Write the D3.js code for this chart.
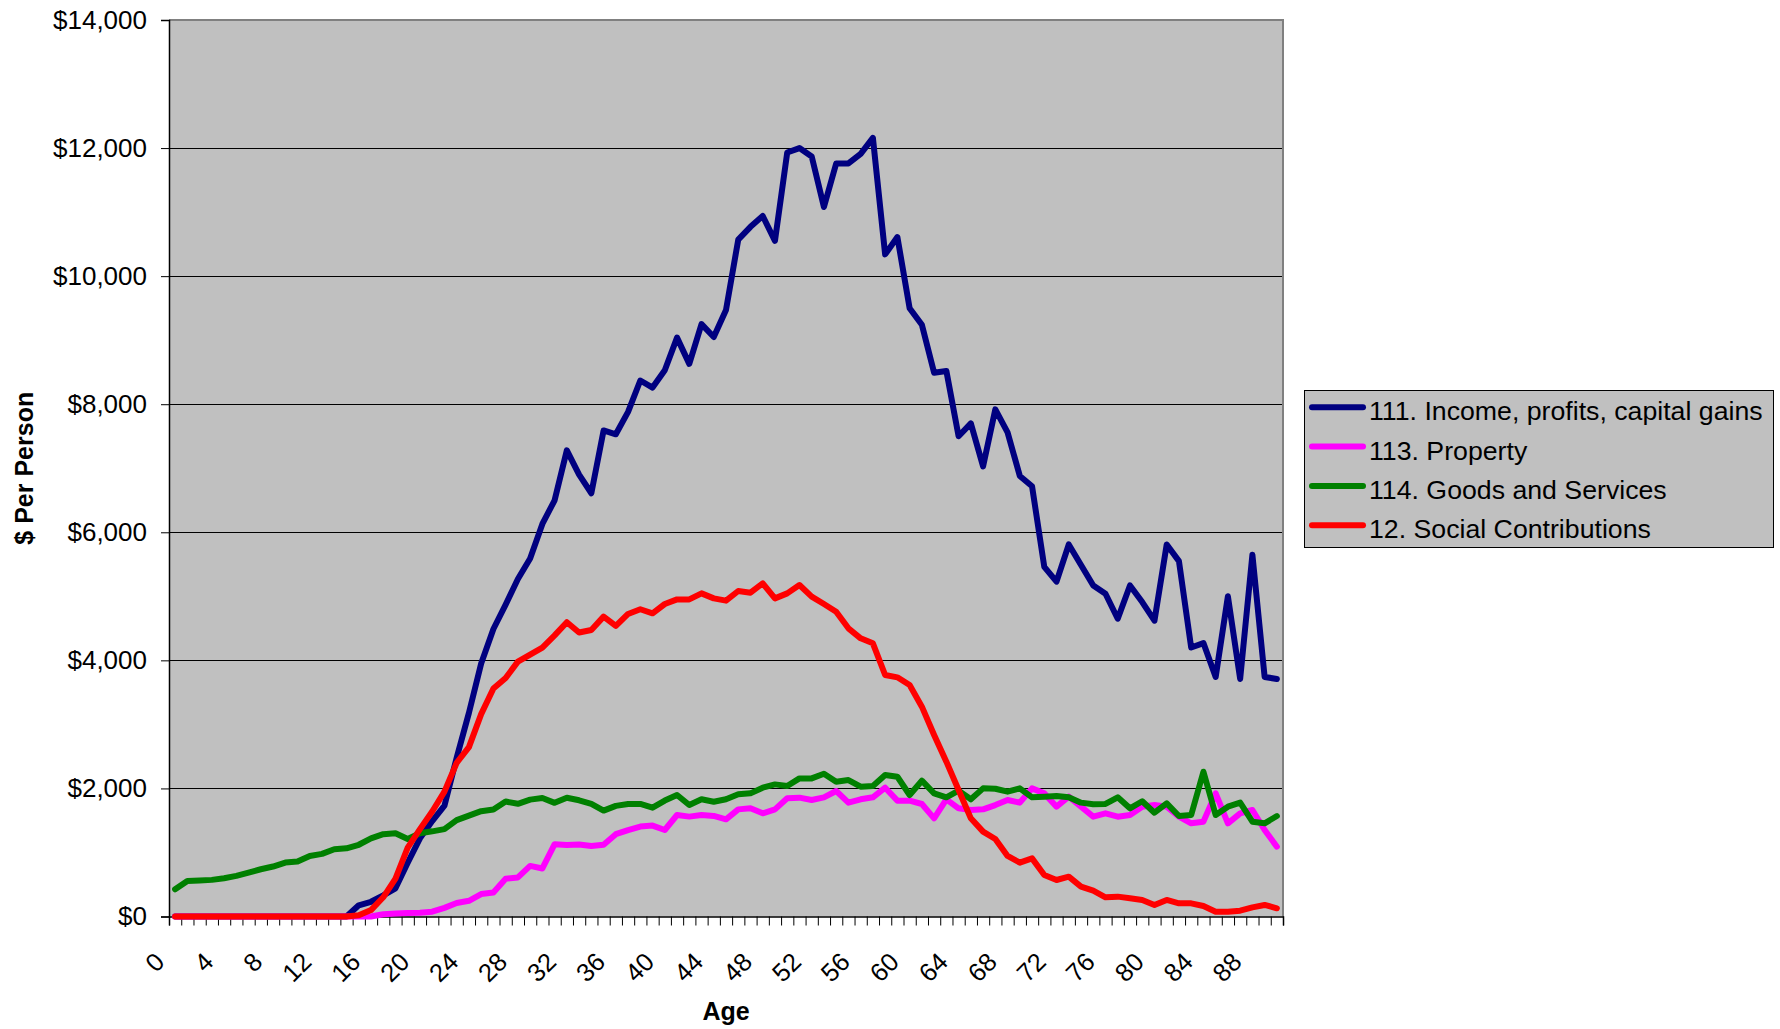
<!DOCTYPE html>
<html>
<head>
<meta charset="utf-8">
<script src="https://cdn.jsdelivr.net/npm/d3@7"></script>
<style>
  html, body { margin: 0; padding: 0; background: #ffffff; }
  svg { display: block; }
  text { font-family: "Liberation Sans", Arial, sans-serif; fill: #000; }
</style>
</head>
<body>
<svg id="chart" width="1780" height="1029"></svg>
<script>
// ---- Data (ages 0..90) ----
const ages = d3.range(0, 91);
const xTickLabels = d3.range(0, 89, 4);
const yTicks = [0, 2000, 4000, 6000, 8000, 10000, 12000, 14000];
const seriesNames = ["111. Income, profits, capital gains", "113. Property", "114. Goods and Services", "12. Social Contributions"];
const seriesColors = ["#000080", "#FF00FF", "#008000", "#FF0000"];

const income = [0,0,0,0,0,0,0,0,0,0,0,0,0,0,0,175,230,330,440,840,
  1220,1490,1730,2480,3180,3950,4490,4870,5270,5590,6130,6500,7280,6900,6610,7590,7530,7880,8370,8260,
  8530,9040,8630,9250,9050,9470,10570,10770,10940,10550,11930,12000,11870,11080,11760,11760,11910,12160,10340,10610,
  9500,9240,8490,8520,7500,7700,7030,7920,7560,6880,6720,5460,5230,5810,5490,5170,5040,4650,5170,4910,
  4620,5810,5550,4200,4270,3740,5000,3710,5650,3740,3710];
const property = [0,0,0,0,0,0,0,0,0,0,0,0,0,0,0,0,0,35,45,55,
  60,75,135,210,245,350,375,590,610,790,750,1130,1115,1125,1100,1120,1285,1350,1405,1420,
  1351,1585,1560,1585,1570,1517,1673,1689,1611,1673,1845,1856,1819,1860,1960,1778,1830,1861,2011,1809,
  1809,1757,1533,1830,1689,1663,1673,1740,1819,1778,2001,1923,1715,1871,1715,1559,1611,1559,1585,1715,
  1741,1715,1559,1455,1481,1923,1455,1611,1663,1351,1090];
const goods = [426,556,562,572,598,634,686,738,780,842,858,946,978,1050,1065,1120,1220,1285,1300,1210,
  1300,1330,1365,1505,1575,1645,1670,1795,1760,1825,1850,1775,1855,1815,1760,1654,1727,1758,1758,1700,
  1810,1897,1741,1830,1793,1830,1908,1923,2011,2063,2037,2157,2157,2230,2105,2131,2027,2037,2209,2183,
  1897,2121,1923,1861,1965,1830,2001,1995,1949,2001,1861,1871,1882,1861,1778,1752,1757,1861,1689,1800,
  1621,1767,1569,1585,2261,1585,1715,1778,1481,1455,1569];
const social = [0,0,0,0,0,0,0,0,0,0,0,0,0,0,0,20,100,300,590,1075,
  1365,1640,1950,2400,2645,3160,3560,3725,3980,4090,4200,4390,4595,4435,4475,4683,4537,4725,4798,4735,
  4880,4952,4952,5046,4968,4932,5083,5057,5203,4968,5046,5177,4995,4880,4760,4500,4344,4266,3771,3735,
  3615,3277,2835,2418,1975,1533,1325,1210,945,841,908,648,570,622,466,403,299,310,284,258,
  180,258,206,206,164,75,75,91,143,180,128];

const seriesValues = [income, property, goods, social];

// ---- Layout ----
const plot = { left: 169, right: 1283, top: 20, bottom: 916.5 };
const svg = d3.select("#chart");

const x = d3.scaleBand().domain(ages).range([plot.left, plot.right]).paddingInner(0).paddingOuter(0);
const xb = d3.scaleLinear().domain([0, ages.length]).range([plot.left, plot.right]);
const y = d3.scaleLinear().domain([0, 14000]).range([plot.bottom, plot.top]);
const cx = i => x(i) + x.bandwidth() / 2;

// Plot background
svg.append("rect")
  .attr("x", plot.left).attr("y", plot.top)
  .attr("width", plot.right - plot.left).attr("height", plot.bottom - plot.top)
  .attr("fill", "#C0C0C0");

// Gridlines
svg.append("g")
  .selectAll("line")
  .data(yTicks.filter(t => t > 0 && t < 14000))
  .join("line")
  .attr("x1", plot.left).attr("x2", plot.right)
  .attr("y1", d => Math.round(y(d)) + 0.5).attr("y2", d => Math.round(y(d)) + 0.5)
  .attr("stroke", "#000").attr("stroke-width", 1);

// Top and right border (gray)
svg.append("line").attr("x1", plot.left).attr("x2", plot.right + 1)
  .attr("y1", plot.top).attr("y2", plot.top).attr("stroke", "#808080").attr("stroke-width", 2);
svg.append("line").attr("x1", plot.right).attr("x2", plot.right)
  .attr("y1", plot.top).attr("y2", plot.bottom).attr("stroke", "#808080").attr("stroke-width", 2);

// Y axis
const yAxis = d3.axisLeft(y).tickValues(yTicks).tickSize(8).tickPadding(14)
  .tickFormat(d => "$" + d3.format(",")(d));
const gy = svg.append("g").attr("transform", `translate(${plot.left},0)`).call(yAxis);
gy.select(".domain").attr("stroke", "#000").attr("stroke-width", 1.5);
gy.selectAll(".tick line").attr("stroke", "#000");
gy.selectAll(".tick text").attr("font-size", 26).attr("font-family", "Liberation Sans, Arial, sans-serif").attr("fill", "#000");

// X axis (ticks at category boundaries)
const xAxis = d3.axisBottom(xb).tickValues(d3.range(0, ages.length + 1)).tickSize(9).tickFormat("");
const gx = svg.append("g").attr("transform", `translate(0,${plot.bottom})`).call(xAxis);
gx.select(".domain").attr("stroke", "#000").attr("stroke-width", 1.5);
gx.selectAll(".tick line").attr("stroke", "#000");

// X tick labels, rotated
svg.append("g")
  .selectAll("text")
  .data(xTickLabels)
  .join("text")
  .attr("transform", d => `translate(${cx(d) - 9},${plot.bottom + 47}) rotate(-45)`)
  .attr("text-anchor", "end")
  .attr("font-size", 25.5)
  .text(d => d);

// Lines
const line = d3.line().x((d, i) => cx(i)).y(d => y(d));
svg.append("g")
  .selectAll("path")
  .data(seriesValues)
  .join("path")
  .attr("d", d => line(d))
  .attr("fill", "none")
  .attr("stroke", (d, i) => seriesColors[i])
  .attr("stroke-width", 6)
  .attr("stroke-linejoin", "round")
  .attr("stroke-linecap", "round");

// Axis titles
svg.append("text")
  .attr("x", (plot.left + plot.right) / 2).attr("y", 1020)
  .attr("text-anchor", "middle").attr("font-size", 25).attr("font-weight", "bold")
  .text("Age");
svg.append("text")
  .attr("transform", `translate(33,${(plot.top + plot.bottom) / 2}) rotate(-90)`)
  .attr("text-anchor", "middle").attr("font-size", 25).attr("font-weight", "bold")
  .text("$ Per Person");

// Legend
const lg = { x: 1304, y: 390, w: 469, h: 157 };
const legend = svg.append("g");
legend.append("rect").attr("x", lg.x + 0.5).attr("y", lg.y + 0.5).attr("width", lg.w).attr("height", lg.h)
  .attr("fill", "#C0C0C0").attr("stroke", "#000").attr("stroke-width", 1);
const items = legend.selectAll("g.item").data(seriesNames).join("g")
  .attr("class", "item")
  .attr("transform", (d, i) => `translate(0,${407.3 + i * 39.3})`);
items.append("line").attr("x1", 1312).attr("x2", 1363).attr("y1", 0).attr("y2", 0)
  .attr("stroke", (d, i) => seriesColors[i]).attr("stroke-width", 6).attr("stroke-linecap", "round");
items.append("text").attr("x", 1369).attr("y", 13).attr("font-size", 26.7).text(d => d);
</script>
</body>
</html>
